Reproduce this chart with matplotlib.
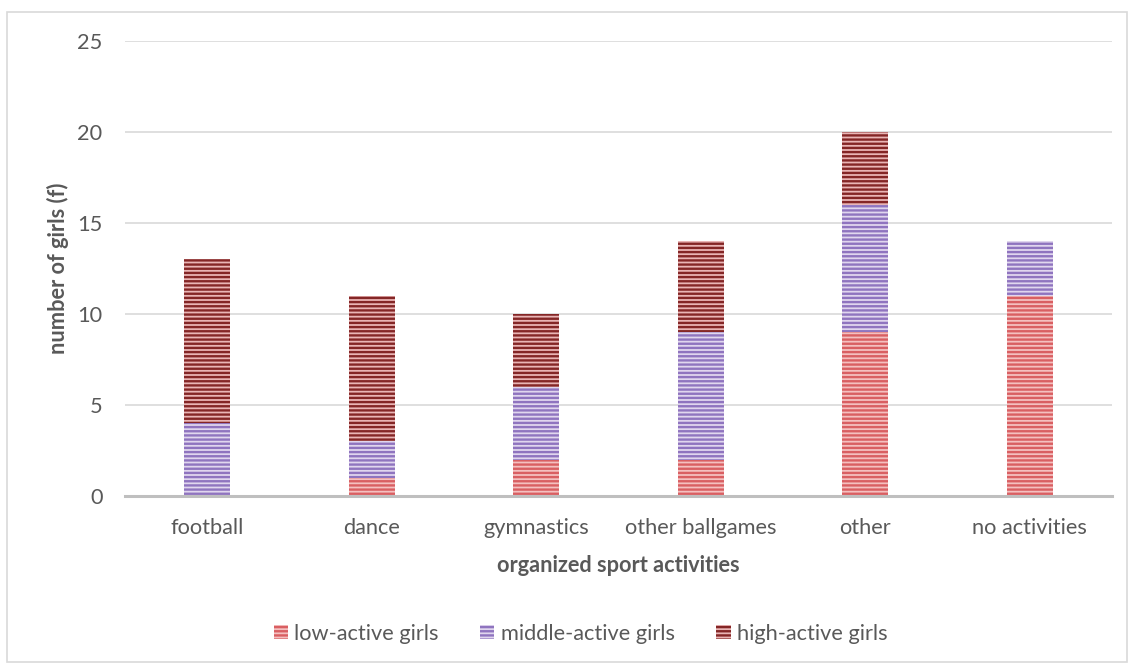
import matplotlib.pyplot as plt
import numpy as np
from matplotlib.patches import Rectangle

# data
categories = ['football', 'dance', 'gymnastics', 'other ballgames', 'other', 'no activities']
low_active = [0, 1, 2, 2, 9, 11]
middle_active = [4, 2, 4, 7, 7, 3]
high_active = [9, 8, 4, 5, 4, 0]
series_names = ['low-active girls', 'middle-active girls', 'high-active girls']

plt.rcParams['font.family'] = ['Lato', 'DejaVu Sans']
plt.rcParams['hatch.linewidth'] = 1.7

fig = plt.figure(figsize=(11.34, 6.65), dpi=100)
ax = fig.add_axes([0.110, 0.2541, 0.8706, 0.6842])

# face colour / stripe colour per series
faces = ['#F4C0C0', '#E0D6EE', '#E9B5B5']
stripes = ['#D95F62', '#8F74BF', '#842626']

fs = 15.7

x = np.arange(len(categories))
bottom = np.zeros(len(categories))
for vals, name, fc, ec in zip([low_active, middle_active, high_active], series_names, faces, stripes):
    ax.bar(x, vals, width=0.28, bottom=bottom, color=fc, edgecolor=ec,
           hatch='----', linewidth=0, label=name, zorder=3)
    bottom += np.array(vals)

ax.set_xlim(-0.5, len(categories) - 0.5)
ax.set_ylim(0, 25)
ax.set_yticks(range(0, 26, 5))
ax.set_xticks(x)
ax.set_xticklabels(categories)
ax.tick_params(axis='both', length=0, labelsize=fs, colors='#595959')
ax.tick_params(axis='y', pad=16)
ax.tick_params(axis='x', pad=16)
ax.grid(axis='y', color='#D9D9D9', linewidth=1.2, zorder=0)

for s in ['top', 'right', 'left']:
    ax.spines[s].set_visible(False)
ax.spines['bottom'].set_color('#BFBFBF')
ax.spines['bottom'].set_linewidth(2.2)
ax.spines['bottom'].set_zorder(4)

ax.set_xlabel('organized sport activities', fontsize=fs, fontweight='bold',
              color='#595959', labelpad=12)
# y label placed directly in figure coordinates
fig.text(58 / 1134, 0.597, 'number of girls (f)', rotation=90, ha='center', va='center',
         fontsize=fs, fontweight='bold', color='#595959')

leg = fig.legend(loc='center', bbox_to_anchor=(0.512, 0.047), ncol=3, frameon=False,
                 fontsize=fs, handlelength=0.65, handleheight=0.65, handletextpad=0.3,
                 columnspacing=1.9)
for t in leg.get_texts():
    t.set_color('#595959')

# outer chart border
fig.patches.append(Rectangle((7 / 1134, 0.004), 1120 / 1134, 1 - 12 / 665 - 0.004,
                             transform=fig.transFigure, fill=False,
                             edgecolor='#D9D9D9', linewidth=1.2))

fig.savefig('out.png', dpi=100)
